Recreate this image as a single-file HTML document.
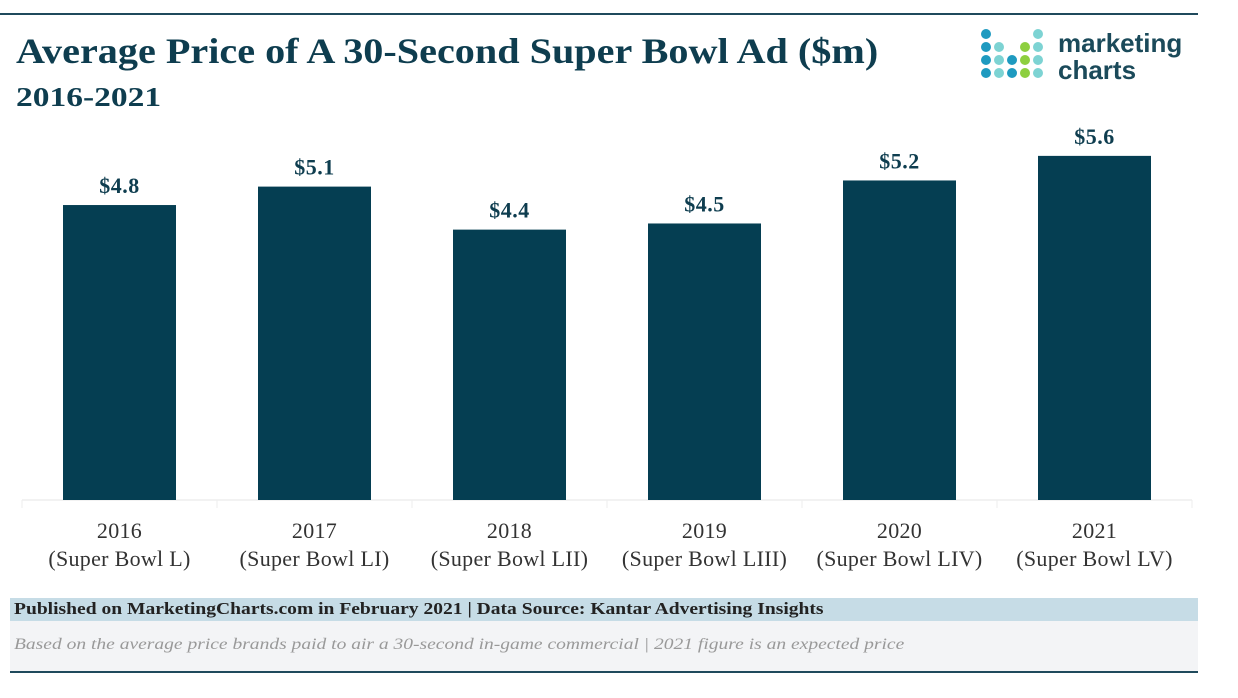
<!DOCTYPE html>
<html><head><meta charset="utf-8"><style>
body{margin:0;background:#fff;width:1238px;height:698px;overflow:hidden;font-family:"Liberation Serif",serif;position:relative}
.abs{position:absolute;white-space:nowrap}
</style></head><body>
<div class="abs" style="left:0;top:13px;width:1198px;height:2px;background:#1f4a5c"></div>
<div class="abs" style="left:16px;top:30px;font:bold 36px 'Liberation Serif',serif;color:#0e3d4f;transform:scaleX(1.116);transform-origin:0 0">Average Price of A 30-Second Super Bowl Ad ($m)</div>
<div class="abs" style="left:16px;top:82px;font:bold 27px 'Liberation Serif',serif;color:#0e3d4f;transform:scaleX(1.24);transform-origin:0 0">2016-2021</div>
<div class="abs" style="left:980px;top:28px;width:220px;height:60px">
<svg width="80" height="60">
<g id="d"></g></svg>
<div class="abs" style="left:78px;top:2px;font:bold 26px 'Liberation Sans',sans-serif;color:#1b4a5a;line-height:27px">marketing<br>charts</div>
</div>
<svg class="abs" style="left:0;top:0" width="1238" height="600" id="chart"></svg>
<div class="abs" style="left:10px;top:598px;width:1188px;height:23px;background:#c6dce6"></div>
<div class="abs" style="left:14px;top:599px;font:bold 17px 'Liberation Serif',serif;color:#222;transform:scaleX(1.15);transform-origin:0 0">Published on MarketingCharts.com in February 2021 | Data Source: Kantar Advertising Insights</div>
<div class="abs" style="left:10px;top:621px;width:1188px;height:50px;background:#f3f4f6"></div>
<div class="abs" style="left:14px;top:636px;font:italic 16px 'Liberation Serif',serif;color:#999;transform:scaleX(1.22);transform-origin:0 0">Based on the average price brands paid to air a 30-second in-game commercial | 2021 figure is an expected price</div>
<div class="abs" style="left:10px;top:671px;width:1188px;height:2px;background:#1f4a5c"></div>
<script>
const years=["2016","2017","2018","2019","2020","2021"];
const games=["(Super Bowl L)","(Super Bowl LI)","(Super Bowl LII)","(Super Bowl LIII)","(Super Bowl LIV)","(Super Bowl LV)"];
const values=[4.8,5.1,4.4,4.5,5.2,5.6];
const labels=["$4.8","$5.1","$4.4","$4.5","$5.2","$5.6"];
const NS="http://www.w3.org/2000/svg";
const svg=document.getElementById('chart');
const x0=22,x1=1192,base=500,pxPer=61.45,band=(x1-x0)/years.length,bw=113;
const y=v=>base-v*pxPer;
const xc=i=>x0+band*(i+0.5);
function mk(t,a){const e=document.createElementNS(NS,t);for(const k in a)e.setAttribute(k,a[k]);svg.appendChild(e);return e;}
const ax=mk('line',{x1:x0,x2:x1,y1:base,y2:base,stroke:'#e6e6e6','stroke-width':1});


for(let i=0;i<=years.length;i++){const t=mk('line',{x1:x0+band*i,x2:x0+band*i,y1:base,y2:base+8,stroke:'#eee'});

}
values.forEach((v,i)=>{
const r=mk('rect',{x:xc(i)-bw/2,y:y(v),width:bw,height:base-y(v),fill:'#053e52'});


const l=mk('text',{x:xc(i),y:y(v)-12,'text-anchor':'middle','font-family':'Liberation Serif, serif','font-weight':'bold','font-size':22,'letter-spacing':0.5,fill:'#0e3d4f'});l.textContent=labels[i];


const a=mk('text',{x:xc(i),y:538,'text-anchor':'middle','font-family':'Liberation Serif, serif','font-size':22,'letter-spacing':0.3,fill:'#333'});a.textContent=years[i];


const b=mk('text',{x:xc(i),y:566,'text-anchor':'middle','font-family':'Liberation Serif, serif','font-size':22,'letter-spacing':0.3,fill:'#333'});b.textContent=games[i];


});
// logo dots
const g=document.getElementById('d');
const cols=[["#1e9ac0","#1e9ac0","#1e9ac0","#1e9ac0"],[null,"#7dd3d3","#7dd3d3","#7dd3d3"],[null,null,"#1e9ac0","#1e9ac0"],[null,"#8dcf3f","#8dcf3f","#8dcf3f"],["#7dd3d3","#7dd3d3","#7dd3d3","#7dd3d3"]];
cols.forEach((c,ci)=>c.forEach((f,ri)=>{if(!f)return;const e=document.createElementNS(NS,'circle');e.setAttribute('cx',6+ci*13);e.setAttribute('cy',6+ri*13);e.setAttribute('r',5);e.setAttribute('fill',f);g.appendChild(e);}));
</script>
</body></html>
